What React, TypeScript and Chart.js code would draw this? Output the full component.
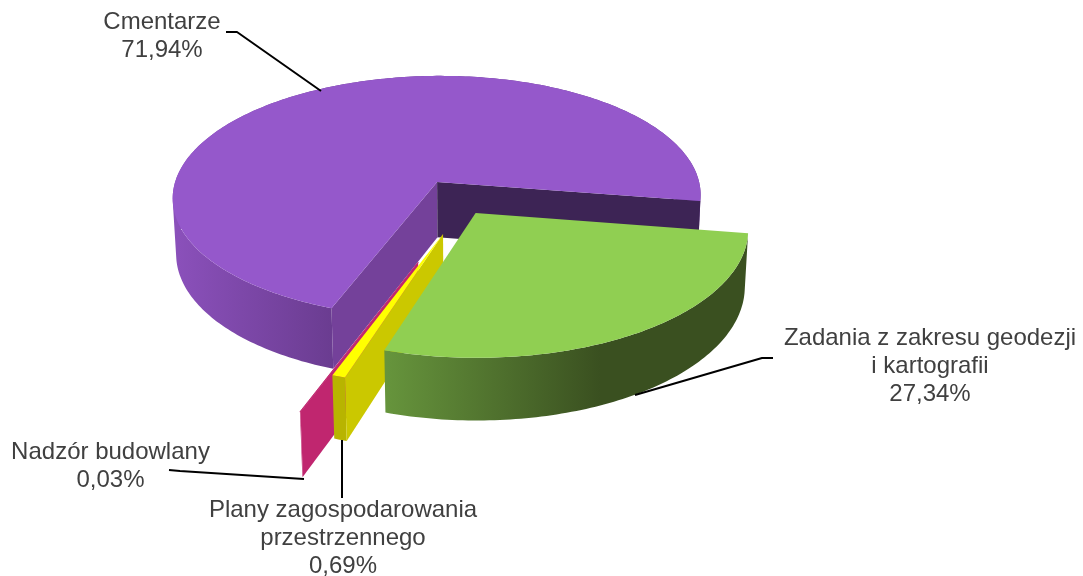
import React, { useEffect, useRef } from "react";
import { Chart, registerables } from "chart.js";

Chart.register(...registerables);

const categories = [
  "Cmentarze",
  "Zadania z zakresu geodezji i kartografii",
  "Plany zagospodarowania przestrzennego",
  "Nadzór budowlany",
];
const values = [71.94, 27.34, 0.69, 0.03];
const categoryLines = [
  ["Cmentarze"],
  ["Zadania z zakresu geodezji", "i kartografii"],
  ["Plany zagospodarowania", "przestrzennego"],
  ["Nadzór budowlany"],
];

// Appearance of each slice (a null face is one the viewer cannot see)
const topColors = ["#9558cb", "#90cf52", "#ffff00", "#c0266f"];
const rimFrom = ["#8a50ba", "#66943c", "#b8b400", "#c0266f"];
const rimTo = ["#6a3c90", "#3a5020", "#b8b400", "#c0266f"];
const startFaceColors = ["#74419a", null, "#cbc800", "#c0266f"];
const endFaceColors = ["#3d2455", null, null, null];
const rimGradientX = [[178, 335], [387, 600], [333, 348], [300, 335]];
const explodeU = [-0.116, 0.03, -0.0886, -0.174];
const explodeV = [-0.199, 0.0533, 0.217, 0.425];
const paintOrder = [0, 3, 2, 1];
const borderWidths = [0, 0, 0, 0.8];

// Perspective of the tilted pie
const RX = 268.5;
const RY = 125;
const TILT = 0.125;
const DROP = 57;
const SINK = 0.012;

// Text and leader lines
const labelFont = "24px 'Liberation Sans', Arial, sans-serif";
const labelColor = "#404040";
const lineHeight = 28;
const labelPlaces = [
  { x: 162, y: 22.5 },
  { x: 930, y: 338.5 },
  { x: 343, y: 510 },
  { x: 110.5, y: 452 },
];
const leaders = [
  [[226, 32], [237, 32], [321, 91]],
  [[773, 358], [762, 358], [635, 395]],
  [[342, 440], [342, 498]],
  [[169, 470], [180, 471], [304, 479]],
];

const pct = (v: number) => v.toFixed(2).replace(".", ",") + "%";

type Pt = [number, number];

const pie3d = {
  id: "pie3d",
  beforeDatasetDraw: () => false,
  afterDatasetsDraw(chart: any) {
    const ctx: CanvasRenderingContext2D = chart.ctx;
    const arcs = chart.getDatasetMeta(0).data;
    const ox = arcs[0].x;
    const oy = arcs[0].y;
    const project = (u: number, v: number, z: number): Pt => {
      const w = 1 - TILT * v + SINK * z;
      return [ox + (RX * u) / w, oy + (RY * v + DROP * z) / w];
    };
    const addPolygon = (pts: Pt[]) => {
      pts.forEach((p, i) => (i ? ctx.lineTo(p[0], p[1]) : ctx.moveTo(p[0], p[1])));
      ctx.closePath();
    };
    const trace = (pts: Pt[]) => {
      ctx.beginPath();
      addPolygon(pts);
    };
    const signedArea = (pts: Pt[]) =>
      pts.reduce((s, p, i) => {
        const q = pts[(i + 1) % pts.length];
        return s + p[0] * q[1] - q[0] * p[1];
      }, 0);

    ctx.save();
    paintOrder.forEach((i) => {
      const arc = arcs[i];
      const cu = explodeU[i];
      const cv = explodeV[i];
      const start = arc.startAngle;
      const end = arc.endAngle;
      const steps = Math.max(2, Math.ceil(((end - start) * 180) / Math.PI));
      const rimAt = (z: number) => {
        const pts: Pt[] = [];
        for (let s = 0; s <= steps; s++) {
          const a = start + ((end - start) * s) / steps;
          pts.push(project(cu + Math.cos(a), cv + Math.sin(a), z));
        }
        return pts;
      };
      const top = rimAt(0);
      const bottom = rimAt(1);
      const c0 = project(cu, cv, 0);
      const c1 = project(cu, cv, 1);

      // outer wall, every quad wound the same way so that the fold does not cancel
      const g = ctx.createLinearGradient(rimGradientX[i][0], 0, rimGradientX[i][1], 0);
      g.addColorStop(0, rimFrom[i]);
      g.addColorStop(1, rimTo[i]);
      ctx.fillStyle = g;
      ctx.beginPath();
      for (let s = 0; s < steps; s++) {
        const quad: Pt[] = [top[s], top[s + 1], bottom[s + 1], bottom[s]];
        addPolygon(signedArea(quad) < 0 ? quad.reverse() : quad);
      }
      ctx.fill();

      // faces along the radii
      const startFace = startFaceColors[i];
      if (startFace) {
        ctx.fillStyle = startFace;
        trace([c0, top[0], bottom[0], c1]);
        ctx.fill();
      }
      const endFace = endFaceColors[i];
      if (endFace) {
        ctx.fillStyle = endFace;
        trace([c0, top[steps], bottom[steps], c1]);
        ctx.fill();
      }

      // top surface
      ctx.fillStyle = arc.options.backgroundColor;
      trace([c0, ...top]);
      ctx.fill();
      if (arc.options.borderWidth > 0) {
        ctx.strokeStyle = arc.options.borderColor;
        ctx.lineWidth = arc.options.borderWidth;
        ctx.stroke();
      }
    });

    // leader lines
    ctx.strokeStyle = "#000000";
    ctx.lineWidth = 2;
    ctx.lineJoin = "round";
    leaders.forEach((l) => {
      ctx.beginPath();
      l.forEach((p, i) => (i ? ctx.lineTo(p[0], p[1]) : ctx.moveTo(p[0], p[1])));
      ctx.stroke();
    });

    // labels
    ctx.font = labelFont;
    ctx.fillStyle = labelColor;
    ctx.textAlign = "center";
    ctx.textBaseline = "middle";
    categoryLines.forEach((lines, i) => {
      const all = [...lines, pct(values[i])];
      all.forEach((t, n) => {
        ctx.fillText(t, labelPlaces[i].x, labelPlaces[i].y + n * lineHeight);
      });
    });
    ctx.restore();
  },
};

export default function App() {
  const ref = useRef<HTMLCanvasElement | null>(null);
  useEffect(() => {
    const chart = new Chart(ref.current as HTMLCanvasElement, {
      type: "pie",
      data: {
        labels: categories,
        datasets: [
          {
            data: values,
            backgroundColor: topColors,
            borderColor: topColors,
            borderWidth: borderWidths,
          },
        ],
      },
      options: {
        responsive: false,
        animation: false,
        rotation: 200.1,
        layout: { padding: { left: 0, top: 0, right: 148, bottom: 163.6 } },
        plugins: { legend: { display: false }, tooltip: { enabled: false } },
      },
      plugins: [pie3d],
    } as any);
    return () => chart.destroy();
  }, []);
  return (
    <canvas
      ref={ref}
      width={1083}
      height={576}
      style={{ position: "absolute", left: 0, top: 0, display: "block", background: "#ffffff" }}
    />
  );
}
